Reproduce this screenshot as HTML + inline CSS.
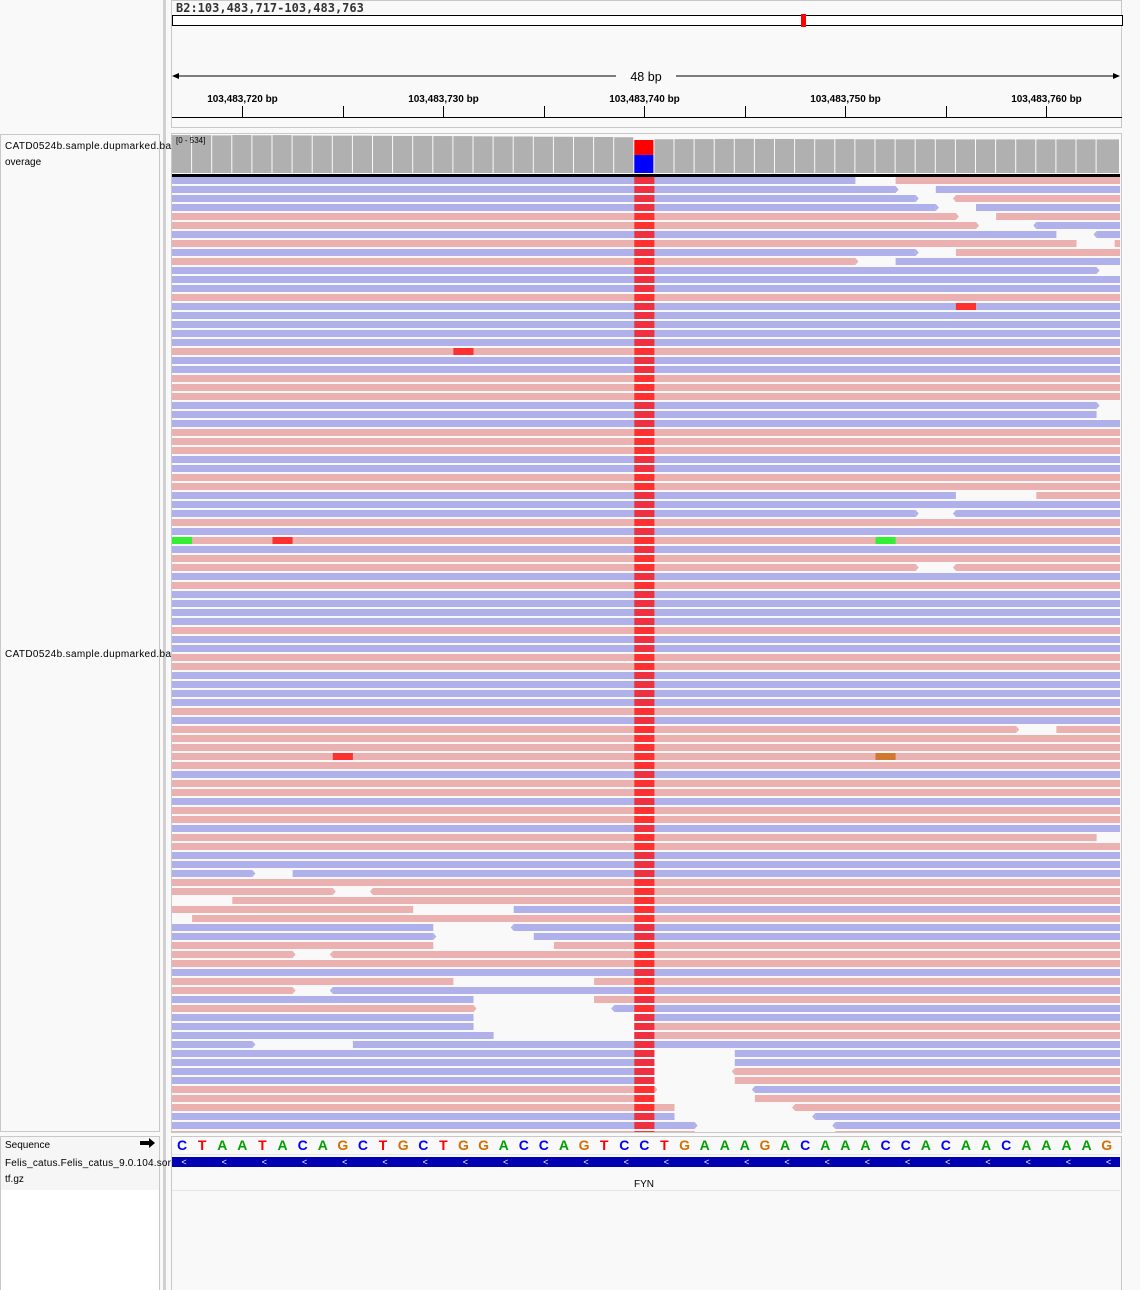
<!DOCTYPE html>
<html><head><meta charset="utf-8"><style>
body{margin:0;background:#fff;font-family:"Liberation Sans","DejaVu Sans",sans-serif;}
svg{display:block}
</style></head><body>
<svg id="v" width="1140" height="1290" xmlns="http://www.w3.org/2000/svg">
<rect x="0" y="0" width="1140" height="1290" fill="#f9f9f9"/>
<g>
<rect x="0.5" y="134.5" width="159" height="997" fill="#f9f9f9" stroke="#c8c8c8"/>
<rect x="0.5" y="1136.5" width="159" height="160" fill="#fff" stroke="#c8c8c8"/>
<rect x="1" y="1137" width="158" height="53" fill="#f6f6f6"/>
<rect x="160" y="0" width="12" height="1290" fill="#f9f9f9"/>
</g>
<rect x="163" y="0" width="3" height="1290" fill="#d0d0d0"/>
<g>
<rect x="171.5" y="0.5" width="950" height="127" fill="#f9f9f9" stroke="#c8c8c8"/>
<text x="176" y="12" font-size="12" font-weight="bold" fill="#333" font-family="DejaVu Sans Mono, monospace">B2:103,483,717-103,483,763</text>
<rect x="172.5" y="15.5" width="950" height="10" fill="#fff" stroke="#000"/>
<rect x="801" y="14" width="5" height="13" fill="#f00"/>
<line x1="174" y1="76" x2="616" y2="76" stroke="#000"/>
<line x1="676" y1="76" x2="1118" y2="76" stroke="#000"/>
<path d="M172 76l7-3v6z M1120 76l-7-3v6z" fill="#000"/>
<text x="646" y="81" font-size="12.5" text-anchor="middle" fill="#000">48 bp</text>
<line x1="172" y1="117.5" x2="1122" y2="117.5" stroke="#000"/>
<g id="ticks"></g>
</g>
<g>
<rect x="171.5" y="133.5" width="950" height="999" fill="#f9f9f9" stroke="#c8c8c8"/>
<g id="cov"></g>
<rect x="172" y="174" width="948" height="3" fill="#000"/>
<g id="reads"></g>
<rect x="171.5" y="1136.5" width="950" height="160" fill="#f9f9f9" stroke="#c8c8c8"/>
<line x1="172" y1="1154.5" x2="1120" y2="1154.5" stroke="#e8e8e8"/>
<line x1="172" y1="1190.5" x2="1120" y2="1190.5" stroke="#e6e6e6"/>
<g id="seq"></g>
<rect x="172" y="1157" width="948" height="10" fill="#0000b2"/>
<g id="chev"></g>
<text x="644" y="1187" font-size="10" text-anchor="middle" fill="#000">FYN</text>
</g>
<g>
<text x="5" y="149" font-size="10" fill="#000" textLength="166">CATD0524b.sample.dupmarked.ba</text>
<text x="5" y="165" font-size="10" fill="#000">overage</text>
<text x="5" y="657" font-size="10" fill="#000" textLength="166">CATD0524b.sample.dupmarked.ba</text>
<text x="5" y="1148" font-size="10" fill="#000">Sequence</text>
<path d="M140 1141h9v-3l6 5-6 5v-3h-9z" fill="#000"/>
<text x="5" y="1166" font-size="10" fill="#000" textLength="166">Felis_catus.Felis_catus_9.0.104.sor</text>
<text x="5" y="1182" font-size="10" fill="#000">tf.gz</text>
</g>
</svg>
<script>
const NS="http://www.w3.org/2000/svg";
const sequence="CTAATACAGCTGCTGGACCAGTCCTGAAAGACAAACCACAACAAAAG";
const coverage=[520,518,515,520,516,519,514,512,512,512,510,508,508,506,505,502,500,500,497,496,495,493,490,452,462,464,464,466,468,466,466,464,462,464,462,462,461,462,461,460,460,460,460,460,460,460,460];
const mismatchT=[205];
const mismatchC=[247];
const covMax=534;
const tickPositions=[103483720,103483725,103483730,103483735,103483740,103483745,103483750,103483755,103483760];
const tickLabels=["103,483,720 bp","","103,483,730 bp","","103,483,740 bp","","103,483,750 bp","","103,483,760 bp"];
const startBp=103483716.5;
const rowColors="bbbbppbpbpbbbpbbbbbpbbpppbbbpppbbppbbbpbpbppbpbbbbpbbppbbbbpbpppppbppbppbppbbbpppppbbpppbppbpbbbbbbbbpppbbp";
const rowOverrides={
0:[[0,34,'b'],[36,47,'p']],1:[[0,36,'b','r'],[38,47,'b']],2:[[0,37,'b','r'],[39,47,'p','l']],
3:[[0,38,'b','r'],[40,47,'b']],4:[[0,39,'p','r'],[41,47,'p']],5:[[0,40,'p','r'],[43,47,'b','l']],
6:[[0,44,'b'],[46,47,'b','l']],7:[[0,45,'p'],[46.9,47,'p']],8:[[0,37,'b','r'],[39,47,'p']],
9:[[0,34,'p','r'],[36,47,'b']],10:[[0,46,'b','r']],25:[[0,46,'b','r']],26:[[0,46,'b']],
35:[[0,39,'b'],[43,47,'p']],37:[[0,37,'b','r'],[39,47,'b','l']],43:[[0,37,'p','r'],[39,47,'p','l']],
61:[[0,42,'p','r'],[44,47,'p']],73:[[0,46,'p']],
77:[[0,4,'b','r'],[6,47,'b']],79:[[0,8,'p','r'],[10,47,'p','l']],80:[[3,47,'p']],
81:[[0,12,'p'],[17,47,'b']],82:[[1,47,'p']],83:[[0,13,'b'],[17,47,'b','l']],
84:[[0,13,'b','r'],[18,47,'b']],85:[[0,13,'p'],[19,47,'p']],86:[[0,6,'p','r'],[8,47,'p','l']],
89:[[0,14,'p'],[21,47,'p']],90:[[0,6,'p','r'],[8,47,'b','l']],91:[[0,15,'b'],[21,47,'p']],
92:[[0,15,'p','r'],[22,47,'b','l']],93:[[0,15,'b'],[23,47,'b']],94:[[0,15,'b'],[23,47,'p']],
95:[[0,16,'b'],[23,47,'p']],96:[[0,4,'b','r'],[9,47,'b']],
97:[[0,24,'b'],[28,47,'b']],98:[[0,24,'b'],[28,47,'b']],99:[[0,24,'b'],[28,47,'p','l']],
100:[[0,24,'b'],[28,47,'p']],101:[[0,24,'p','r'],[29,47,'b','l']],102:[[0,24,'p'],[29,47,'p']],
103:[[0,25,'p'],[31,47,'p','l']],104:[[0,25,'b'],[32,47,'b','l']],105:[[0,26,'b','r'],[33,47,'b','l']],
106:[[0,26,'p'],[33,47,'p']]};
const mismatchRows=[14,19,40,40,40,64,64];
const mismatchPos=[39,14,0,5,35,8,35];
const mismatchBase=["T","T","A","T","A","T","G"];
const variantCol=23;

const x0=172,bpW=20.1;
const xs=i=>i>=47?1120:x0+i*bpW;
const bx=bp=>x0+(bp-startBp)*bpW;
const covY=v=>173-v/covMax*39;
const rowY=k=>177+k*9;
const fillOf={b:'#b0b0ea',p:'#ebb0b0'};
const baseColor={A:'#00a000',C:'#0000ff',G:'#d17105',T:'#ff0000'};
function mk(tag,attrs,parent){const e=document.createElementNS(NS,tag);for(const k in attrs)e.setAttribute(k,attrs[k]);parent.appendChild(e);return e;}

const tg=document.getElementById('ticks');
tickPositions.forEach((p,i)=>{const x=Math.round(bx(p))+0.5;
 const l=mk('line',{x1:x,y1:106,x2:x,y2:117,stroke:'#000'},tg);
 
 
 if(tickLabels[i]){const t=mk('text',{x:x,y:102,'font-size':10,'font-weight':'bold','text-anchor':'middle',fill:'#000'},tg);t.textContent=tickLabels[i];
 
 }
});

const cg=document.getElementById('cov');
coverage.forEach((v,i)=>{const x=xs(i),w=xs(i+1)-xs(i)-1;
 if(i===variantCol){
  const yT=covY(mismatchT[0]+mismatchC[0]);const yM=covY(mismatchC[0]);
  const r1=mk('rect',{x:x,y:yT,width:w,height:yM-yT,fill:'#ff0000'},cg);
  
  
  const r2=mk('rect',{x:x,y:yM,width:w,height:173-yM,fill:'#0000ff'},cg);
  
  
 }else{
  const r=mk('rect',{x:x,y:covY(v),width:w,height:173-covY(v),fill:'#b0b0b0'},cg);
  
  
 }
});
const lt=mk('text',{x:176,y:143,'font-size':8,fill:'#000'},cg);lt.textContent='[0 - 534]';



const rg=document.getElementById('reads');
const cp=mk('clipPath',{id:'rc'},rg);mk('rect',{x:172,y:177,width:948,height:955},cp);
const rr=mk('g',{'clip-path':'url(#rc)'},rg);
for(let k=0;k<rowColors.length;k++){
 const segs=rowOverrides[k]||[[0,47,rowColors[k]]];
 const y=rowY(k);
 segs.forEach(s=>{
  const a=xs(s[0]),b=xs(s[1]);
  const r=mk('rect',{x:a,y:y,width:Math.max(1,b-a),height:7,fill:fillOf[s[2]]},rr);
  
  
  if(s[3]==='r')mk('path',{d:`M${b} ${y}l3 3.5l-3 3.5z`,fill:fillOf[s[2]]},rr);
  if(s[3]==='l')mk('path',{d:`M${a} ${y}l-3 3.5l3 3.5z`,fill:fillOf[s[2]]},rr);
 });
 const m=mk('rect',{x:xs(variantCol),y:y,width:bpW,height:7,fill:rowColors[k]==='b'?'#ee3040':'#ff3030'},rr);
 
 
}
mismatchRows.forEach((k,i)=>{
 const col=mismatchBase[i]==='A'?'#33ee33':mismatchBase[i]==='G'?'#d17830':'#ff3030';
 const m=mk('rect',{x:xs(mismatchPos[i]),y:rowY(k),width:bpW,height:7,fill:col},rr);
 
 
});

const sg=document.getElementById('seq');
sequence.split('').forEach((c,i)=>{
 const t=mk('text',{x:x0+i*bpW+bpW/2,y:1150,'font-size':14,'font-weight':'bold','text-anchor':'middle',fill:baseColor[c]},sg);
 t.textContent=c;
 
 
});
const chg=document.getElementById('chev');
for(let x=184;x<1120;x+=40.2){
 const t=mk('text',{x:x,y:1165,'font-size':9,fill:'#fff','text-anchor':'middle'},chg);t.textContent='<';
 
 
}
</script>
</body></html>
